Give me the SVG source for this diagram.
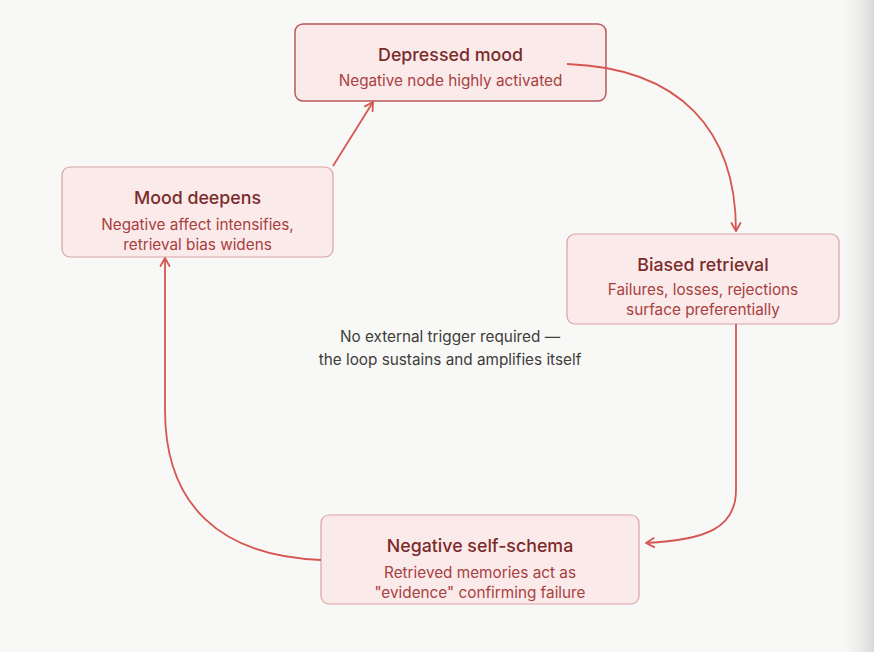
<svg xmlns="http://www.w3.org/2000/svg" width="874" height="652" viewBox="0 0 874 652">
<defs>
<linearGradient id="edge" x1="0" y1="0" x2="1" y2="0">
<stop offset="0" stop-color="#f8f8f6" stop-opacity="0"/>
<stop offset="1" stop-color="#d8d8d6"/>
</linearGradient>
<marker id="arr" viewBox="0 0 12 12" refX="10" refY="6" markerWidth="12" markerHeight="12" markerUnits="userSpaceOnUse" orient="auto">
<path d="M2 1.5 L10 6 L2 10.5" fill="none" stroke="#d65651" stroke-width="1.8" stroke-linecap="round" stroke-linejoin="round"/>
</marker>
</defs>
<style>
.box{fill:#fbeaea;stroke:#d9a3a3;stroke-width:1.2}
.box.hi{stroke:#b9585a;stroke-width:1.5}
.t{font-family:Inter,"Liberation Sans",sans-serif;font-size:17.8px;font-weight:500;fill:#7b2b2b;text-anchor:middle}
.s{font-family:Inter,"Liberation Sans",sans-serif;font-size:15.3px;fill:#a8403f;text-anchor:middle}
.c{font-family:Inter,"Liberation Sans",sans-serif;font-size:15.3px;fill:#3d3d3a;text-anchor:middle}
.e{fill:none;stroke:#d65651;stroke-width:1.8;marker-end:url(#arr)}
</style>
<rect width="874" height="652" fill="#f8f8f6"/>
<rect x="836" y="0" width="38" height="652" fill="url(#edge)"/>
<g id="node-depressed">
<rect class="box hi" x="295" y="24" width="311" height="77" rx="8"/>
<text class="t" x="450.5" y="61">Depressed mood</text>
<text class="s" x="450.5" y="86">Negative node highly activated</text>
</g>
<g id="node-mood-deepens">
<rect class="box" x="62" y="167" width="271" height="90" rx="8"/>
<text class="t" x="197.5" y="204">Mood deepens</text>
<text class="s" x="197.5" y="230">Negative affect intensifies,</text>
<text class="s" x="197.5" y="250">retrieval bias widens</text>
</g>
<g id="node-biased">
<rect class="box" x="567" y="234" width="272" height="90" rx="8"/>
<text class="t" x="703" y="271">Biased retrieval</text>
<text class="s" x="703" y="295">Failures, losses, rejections</text>
<text class="s" x="703" y="315">surface preferentially</text>
</g>
<g id="node-schema">
<rect class="box" x="321" y="515" width="318" height="89" rx="8"/>
<text class="t" x="480" y="552">Negative self-schema</text>
<text class="s" x="480" y="578">Retrieved memories act as</text>
<text class="s" x="480" y="598">"evidence" confirming failure</text>
</g>
<g id="center-note">
<text class="c" x="450" y="342">No external trigger required —</text>
<text class="c" x="450" y="365">the loop sustains and amplifies itself</text>
</g>
<g id="connectors">
<path class="e" d="M567 64 C680 68 736 130 736 231"/>
<path class="e" d="M736 324 L736 490 C736 528 706 540 646 543"/>
<path class="e" d="M321 560 C220 556 165 505 165 410 L165 258"/>
<path class="e" d="M333 166 L373 102"/>
</g>
</svg>
